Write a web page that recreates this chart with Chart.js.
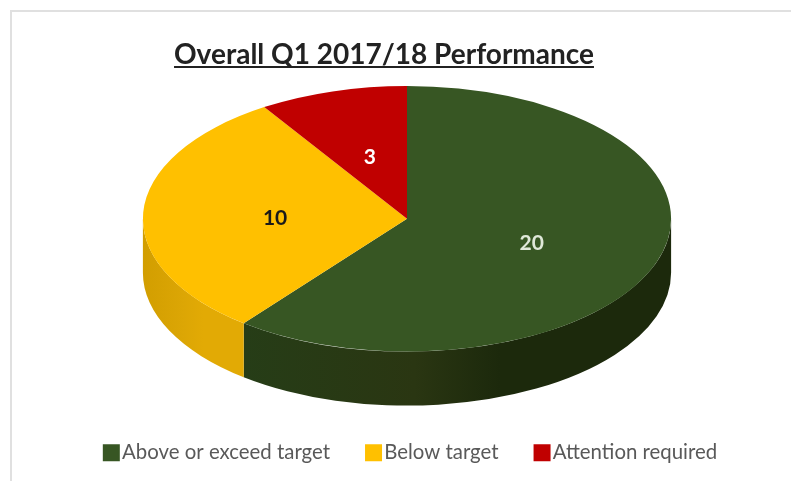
<!DOCTYPE html>
<html>
<head>
<meta charset="utf-8">
<title>Overall Q1 2017/18 Performance</title>
<script src="https://cdn.jsdelivr.net/npm/chart.js@4"></script>
<style>
    html, body { margin: 0; padding: 0; background: #ffffff; }
    canvas { display: block; }
</style>
</head>
<body>
<canvas id="performanceChart" width="791" height="481"></canvas>
<script>
const categories = ['Above or exceed target', 'Below target', 'Attention required'];
const seriesValues = [20, 10, 3];
const topColours = ['#375623', '#ffc000', '#c00000'];
const labelColours = ['#dfe8d8', '#1a1a1a', '#ffffff'];
// side wall shading, left to right
const wallColours = [
    ['#263d17', '#2a3612', '#1c290c'],
    ['#d29e00', '#dca605', '#e2aa05'],
    ['#900000', '#900000', '#900000']
];

const titleText = 'Overall Q1 2017/18 Performance';
const PIE_DEPTH = 54;
const X_STRETCH = 264.5 / 133; // chart area gives a circle, the pie is an ellipse

// Side walls, tilt and value labels for the flat library pie
const pie3d = {
    id: 'pie3d',
    beforeDatasetDraw(chart, args) {
        const ctx = chart.ctx;
        const arcs = chart.getDatasetMeta(args.index).data;
        const cx = arcs[0].x, cy = arcs[0].y, ry = arcs[0].outerRadius, rx = ry * X_STRETCH;

        arcs.forEach((arc, i) => {
            const from = Math.max(arc.startAngle, 0);
            const to = Math.min(arc.endAngle, Math.PI);
            if (from >= to) return;

            const x0 = cx + rx * Math.cos(to), x1 = cx + rx * Math.cos(from);
            const wall = ctx.createLinearGradient(x0, 0, x1, 0);
            wall.addColorStop(0, wallColours[i][0]);
            wall.addColorStop(0.4, wallColours[i][1]);
            wall.addColorStop(0.6, wallColours[i][2]);
            wall.addColorStop(1, wallColours[i][2]);

            ctx.beginPath();
            ctx.ellipse(cx, cy, rx, ry, 0, from, to);
            ctx.ellipse(cx, cy + PIE_DEPTH, rx, ry, 0, to, from, true);
            ctx.closePath();
            ctx.fillStyle = wall;
            ctx.fill();
        });

        ctx.save();
        ctx.translate(cx, 0);
        ctx.scale(X_STRETCH, 1);
        ctx.translate(-cx, 0);
    },
    afterDatasetDraw(chart, args) {
        const ctx = chart.ctx;
        ctx.restore();

        const arcs = chart.getDatasetMeta(args.index).data;
        ctx.save();
        ctx.font = 'bold 21px Lato';
        ctx.textAlign = 'center';
        ctx.textBaseline = 'middle';
        arcs.forEach((arc, i) => {
            const mid = (arc.startAngle + arc.endAngle) / 2;
            const r = arc.outerRadius / 2;
            ctx.fillStyle = labelColours[i];
            ctx.fillText(seriesValues[i], arc.x + r * X_STRETCH * Math.cos(mid), arc.y + r * Math.sin(mid) + 2.5);
        });
        ctx.restore();
    }
};

// Background frame, title underline, and moving title/legend off the pie's centre line
const pageBits = {
    id: 'pageBits',
    afterLayout(chart) {
        const title = chart.titleBlock;
        title.left -= 23;
        title.right -= 23;

        const legend = chart.legend;
        legend.left += 7;
        legend.right += 7;
        legend.top += 48;
        legend.bottom += 48;
    },
    beforeDraw(chart) {
        const ctx = chart.ctx;
        ctx.fillStyle = '#e0e0e0';
        ctx.fillRect(10, 10, 781, 2);
        ctx.fillRect(10, 10, 2, 471);
    },
    afterDraw(chart) {
        const ctx = chart.ctx;
        const title = chart.options.plugins.title;
        ctx.save();
        ctx.font = `bold ${title.font.size}px ${title.font.family}`;
        const w = ctx.measureText(titleText).width;
        ctx.fillStyle = title.color;
        ctx.fillRect(384 - w / 2, 66, w, 2);
        ctx.restore();
    }
};

new Chart(document.getElementById('performanceChart'), {
    type: 'pie',
    data: {
        labels: categories,
        datasets: [{
            data: seriesValues,
            backgroundColor: topColours,
            borderWidth: 0,
            clip: false
        }]
    },
    plugins: [pie3d, pageBits],
    options: {
        responsive: false,
        animation: false,
        layout: {
            padding: { left: 23, right: 0, top: 0, bottom: 56 }
        },
        plugins: {
            title: {
                display: true,
                text: titleText,
                color: '#222222',
                font: { family: 'Lato', size: 28, weight: 'bold' },
                padding: { top: 38, bottom: 14.4 }
            },
            legend: {
                position: 'bottom',
                labels: {
                    color: '#595959',
                    font: { family: 'Lato', size: 20.4 },
                    padding: 43,
                    boxWidth: 1,
                    boxHeight: 1,
                    // a thick stroke gives the big square with the text sitting close to it
                    generateLabels(chart) {
                        return Chart.overrides.pie.plugins.legend.labels.generateLabels(chart).map(item => {
                            item.lineWidth = 16;
                            item.strokeStyle = item.fillStyle;
                            return item;
                        });
                    }
                }
            },
            tooltip: { enabled: false }
        }
    }
});
</script>
</body>
</html>
